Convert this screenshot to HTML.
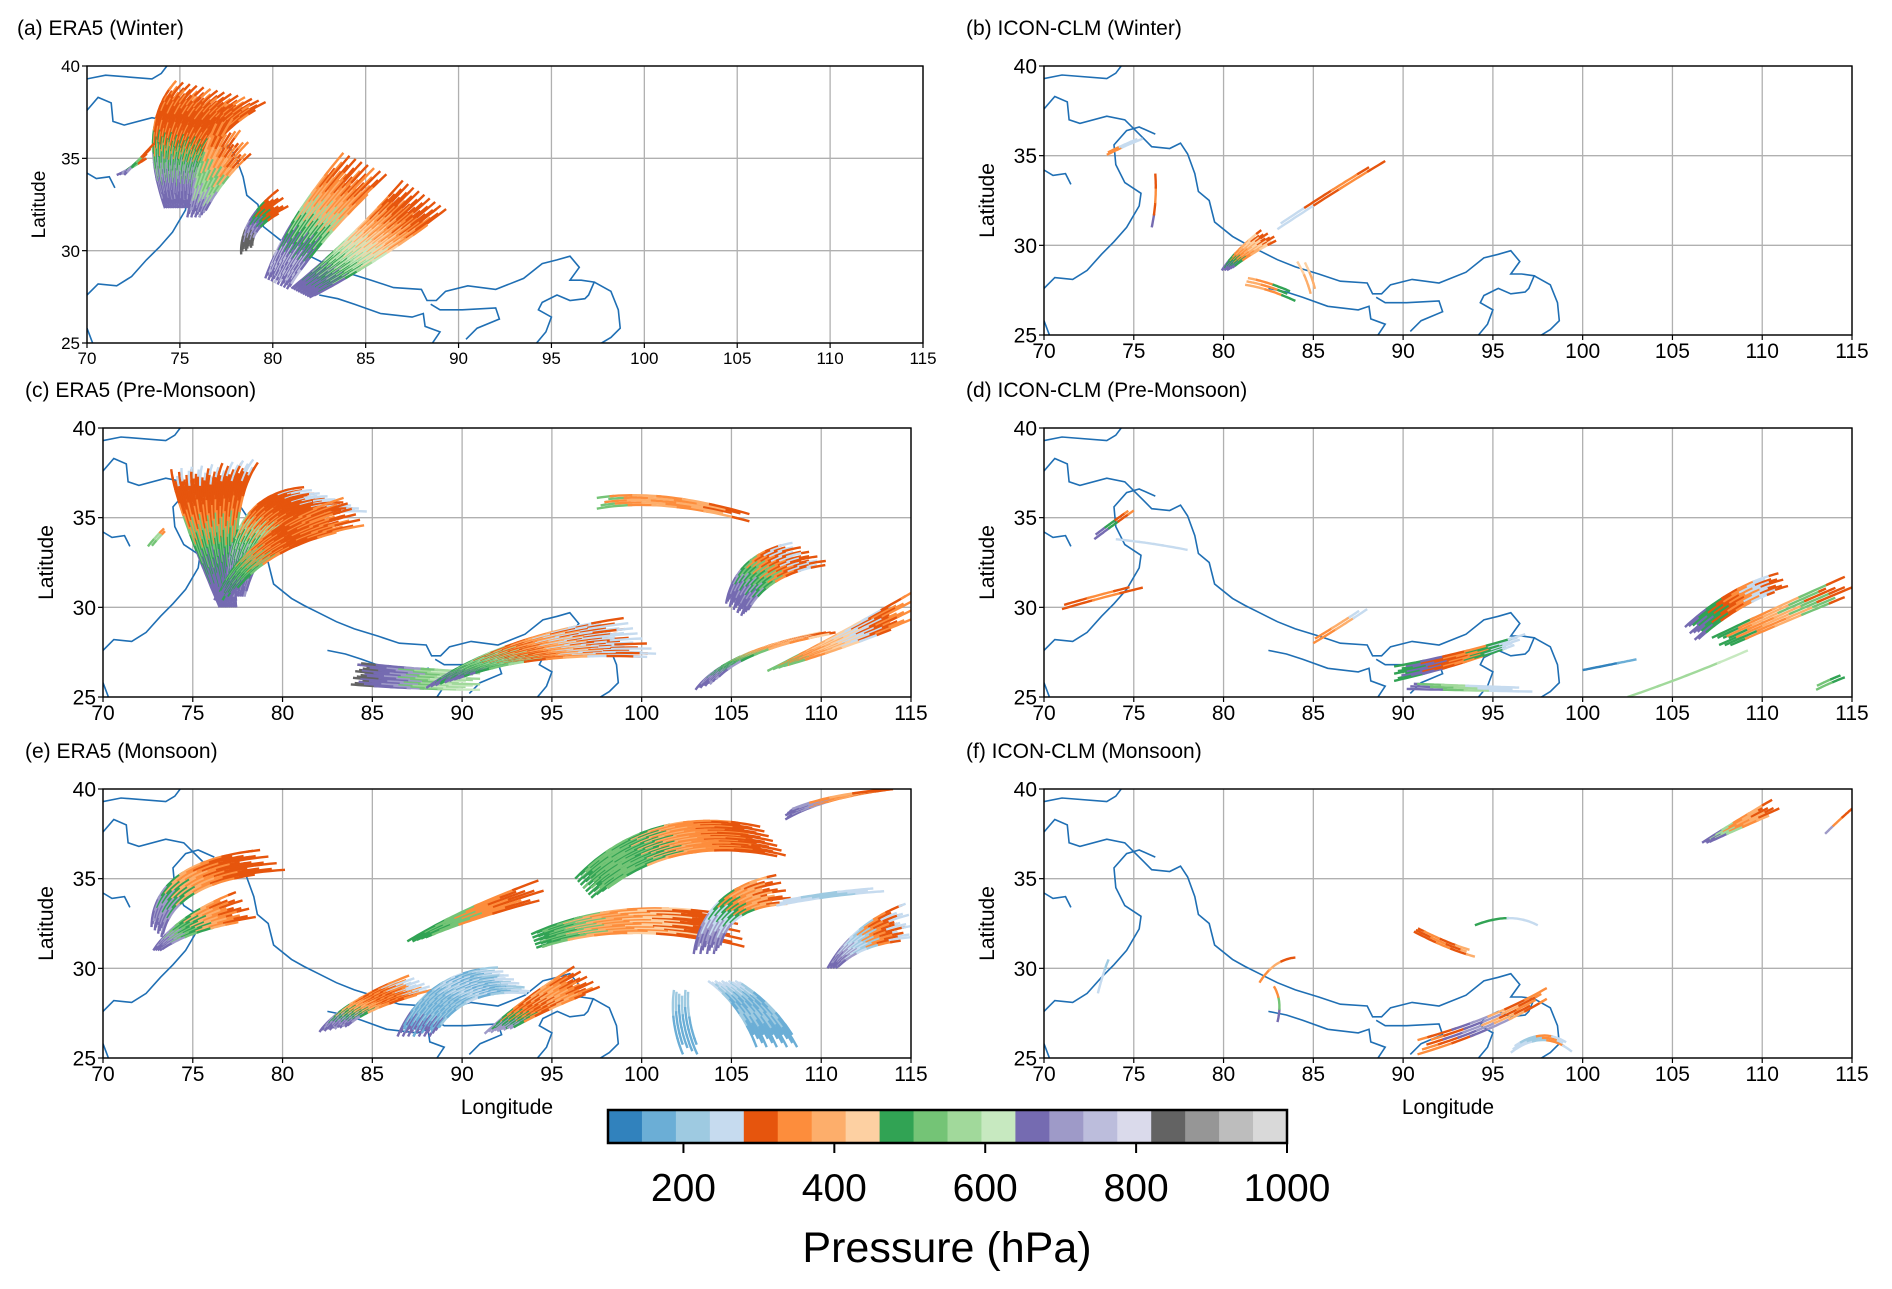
<!DOCTYPE html>
<html><head><meta charset="utf-8"><style>
body{margin:0;background:#fff}
svg{display:block;font-family:"Liberation Sans","DejaVu Sans",sans-serif}
</style></head><body>
<svg id="fig" width="1892" height="1289" viewBox="0 0 1892 1289" xmlns="http://www.w3.org/2000/svg"></svg>
<script>
// ---- data ----
const panelTitles = ["(a) ERA5 (Winter)","(b) ICON-CLM (Winter)","(c) ERA5 (Pre-Monsoon)","(d) ICON-CLM (Pre-Monsoon)","(e) ERA5 (Monsoon)","(f) ICON-CLM (Monsoon)"];
const lonTicks = [70,75,80,85,90,95,100,105,110,115];
const latTicks = [25,30,35,40];
const cbarTicks = [200,400,600,800,1000];
const cbarColors = ["#3182bd","#6baed6","#9ecae1","#c6dbef","#e6550d","#fd8d3c","#fdae6b","#fdd0a2","#31a354","#74c476","#a1d99b","#c7e9c0","#756bb1","#9e9ac8","#bcbddc","#dadaeb","#636363","#969696","#bdbdbd","#d9d9d9"];
// coastline / border polylines [lon,lat,...]
const borders = [
 [70,39.3,71,39.5,73.5,39.3,74,39.6,74.3,40],
 [70,37.6,70.6,38.3,71.3,38,71.4,37,72,36.8,73.5,37.2,74.5,37,75.5,36,76,35.5,77,35.4,77.6,35.7,78,35.1,78.4,34,78.6,33,79.2,32.5,79.5,31.3,80.5,30.5,81.2,30.1,82,29.7,83,29.2,84,28.8,85.3,28.4,86.5,28,88,27.9,88.3,27.3,88.8,27.3,89.3,27.8,90.5,28.1,92,27.9,93.5,28.5,94.5,29.3,95.3,29.5,96,29.7,96.5,29.1,96,28.4,96.6,28.4,97.3,28.3,97,27.6,96.8,27.4,96,27.3,95.3,27.6,94.5,27.2,94.3,26.8,95,26.4,94.7,25.6,94.2,25],
 [97.3,28.3,98.2,27.8,98.6,26.8,98.7,25.8,98.2,25.3,97.7,25],
 [70,27.6,70.6,28.2,71.6,28.1,72.4,28.6,73.2,29.5,73.9,30.2,74.6,31,75.3,32.2,75.4,32.9,74.5,33.5,74,34.5,73.9,35.6,74.6,36.4,75.3,36.6,76.2,36.2],
 [70,34.2,70.5,33.9,71.2,34,71.5,33.4],
 [70,25.8,70.3,25],
 [82.5,27.6,83.5,27.4,84.4,27.1,85.8,26.6,87.5,26.4,88.1,26.6,88.2,25.9,89,25.6,88.6,25],
 [88.5,27.1,89,26.8,90.2,26.8,92,26.9,92.2,26.3,91,25.8,90.4,25.2]
];
// trajectory bundles: panel index
const bundlePanel = [0,0,0,0,0, 2,2,2,2,2,2,2,2,2, 4,4,4,4,4,4,4,4,4,4,4,4,4,4, 1,1,1,1,1,1, 3,3,3,3,3,3,3,3,3,3,3, 5,5,5,5,5,5,5,5,5, 0,2];
// lon0,lat0, ctlLon,ctlLat, lon1,lat1, count, startSpreadLon,startSpreadLat, endSpreadLon,endSpreadLat
const bundleGeom = [
 [75,32.3,74.3,36.5,77.3,38.6,55,1.6,0,5,-1.2],
 [71.8,34.1,72.5,34.6,73.4,35.4,5,0.4,0,0.4,0.8],
 [80.2,28.2,81.5,31,85,34.7,30,1.2,-0.6,2.4,-1.2],
 [81.5,27.7,85,30,88.2,33,34,1,-0.5,2.4,-1.6],
 [78.6,30,78.5,31.5,80.6,32.8,10,0.6,0.4,0.6,-1],
 [77,30,75.5,36,76.3,38,36,1,0,5,0.6],
 [77.4,30.6,78,36,83,36,34,1,0,3.6,-1.4],
 [72.6,33.4,73,33.9,73.5,34.4,2,0.2,0,0.2,0],
 [97.5,35.8,101,36.4,106,35,5,0,0.6,0,0.4],
 [105.2,29.8,106,32.5,109.5,33,20,1,-0.8,2.2,-1.2],
 [84,26.3,87,26,91,25.9,14,0.4,1.2,0,1],
 [89,25.8,93,28,100,28.3,32,2,0.6,2,-2.2],
 [103.5,25.6,105,27.6,110.5,28.6,16,1,0.4,1,0],
 [107.5,26.6,111,28,115,30,14,1,0.3,0,-1.6],
 [73,32,73.3,35.5,79.5,36,14,0.6,-0.6,1.5,-1.2],
 [73,31,74.5,32.6,78,33.5,14,0.4,0,1.2,-1.5],
 [82.8,26.6,84,28,87.8,29.2,22,1.5,0.3,1.5,-0.8],
 [87.4,26.2,89,29.5,93,29.3,28,2,0,2,-1.5],
 [92,26.5,94,28,97,29.5,18,1.5,0.3,1.5,-1.2],
 [96.8,34.4,101,38.5,107.4,37,28,1,-1.2,1.6,-1.8],
 [94,31.5,99,33.5,105.5,32,18,0.3,-0.8,0.5,-1.8],
 [87.2,31.5,90,33,94.5,34.4,8,0.5,0,0.5,-1],
 [103.6,30.8,104,34,108,34.4,16,1.4,0,1,-1.6],
 [104.5,29.3,106.5,28,107.6,25.6,18,1.6,0,2.4,0],
 [102.2,28.8,102,27,102.8,25.2,6,0.8,0,1,0],
 [110.6,30,112,32,115,32.6,14,0.5,0,0.6,-2],
 [108,38.5,110,39.6,114,40,8,0,0.4,0,0],
 [107.5,33.6,110.5,34.2,113.5,34.4,3,0,0.2,0,0.2],
 [80.1,28.6,81,29.6,82.6,30.6,12,0.4,0,1,-0.5],
 [83,31,86,33,89,34.8,2,0,0.2,0,0.2],
 [73.5,35.1,74.5,35.6,75.5,36,2,0,0.1,0,0.1],
 [76,31,76.3,32.4,76.2,34,1,0,0,0,0],
 [81.2,28,82.5,27.8,84,27.1,3,0,0.4,0,0.4],
 [84.3,29.1,84.8,28.2,85,27.3,2,0.4,0,0.3,0],
 [71,30,73,30.6,75.5,31.2,2,0,0.2,0,0.2],
 [72.8,33.9,74,34.8,75,35.5,2,0,0.2,0,0.2],
 [74,33.8,76,33.6,78,33.2,1,0,0,0,0],
 [85,28.1,86.5,29,88,30,2,0,0.2,0,0.2],
 [89.5,26.3,93,27,96.5,28.2,9,0,0.8,0.6,0.6],
 [90.2,25.6,93.5,25.5,97.2,25.4,3,0,0.3,0,0.2],
 [100,26.5,101.5,26.8,103,27.1,1,0,0,0,0],
 [102.5,25,106,26.2,109.2,27.6,1,0,0,0,0],
 [106,28.5,108.5,30.8,111.2,31.5,10,0.6,-0.8,0.6,-0.8],
 [107.5,28,111,29.6,115,31.3,7,0.6,-0.6,0.8,-0.8],
 [113,25.5,113.8,25.9,114.6,26.2,2,0,0.2,0,0.2],
 [106.8,37,108.6,38,110.8,39.1,6,0.3,0,0.5,-0.6],
 [113.5,37.5,114.2,38.2,115,38.9,1,0,0,0,0],
 [90.6,32.2,92.5,31.2,94,30.8,3,0,0.3,0,0.3],
 [94,32.4,96,33.2,97.5,32.4,1,0,0,0,0],
 [82,29.2,82.8,30.5,84,30.6,1,0,0,0,0],
 [90.8,25.6,95,26.8,98,28.6,5,0,0.8,0,0.6],
 [73,28.6,73.3,29.8,73.6,30.5,1,0,0,0,0],
 [83,27,83.3,28.2,82.8,29,1,0,0,0,0],
 [96,25.4,97.8,26.8,99.4,25.5,3,0,0.2,0,0.3],
 [75.8,31.8,76.6,34.5,78.2,36.6,16,0.8,0,1.6,-2.4],
 [76.6,30.4,78.5,34,84,35.3,22,0.8,0,1.2,-1.6]
];
// colour indices along each bundle (start -> end)
const bundleColors = [
 [12,12,13,9,8,5,4,4,4,5,4],
 [12,13,8,9,4,4],
 [12,14,12,8,10,6,5,4],
 [12,12,8,10,11,7,6,5,4,4],
 [16,16,13,12,8,4,4],
 [12,12,8,9,5,4,4,4,3],
 [12,13,8,10,5,4,4,4,3],
 [9,10,5],
 [9,5,6,5,6,4],
 [12,12,13,8,9,5,4,3,4],
 [16,12,12,13,9,10,11,10],
 [12,8,9,10,4,5,6,3,4,3],
 [12,13,8,9,6,5,7,4],
 [9,5,6,7,3,4,5],
 [12,13,8,6,5,4,4],
 [12,13,9,8,6,5,4],
 [12,13,8,6,5,4,5,3],
 [12,1,2,1,2,3,1,2,3],
 [13,8,5,4,6,5,4],
 [8,9,9,8,6,5,5,4,4],
 [8,9,6,5,7,4,4],
 [8,9,5,4],
 [12,13,3,8,5,6,4],
 [3,2,1,2,1,1],
 [2,1,1],
 [12,13,3,2,5,4,3],
 [12,13,5,6,4],
 [3,2,3],
 [12,8,5,6,7,4],
 [3,4,5,4],
 [5,3,3],
 [12,4,5,4],
 [6,5,8],
 [7,6,6],
 [4,5,4],
 [12,8,4,5],
 [3,3,3],
 [5,6,3],
 [8,12,4,5,8,3],
 [12,9,10,3,3],
 [0,0,1],
 [10,10,10,11],
 [12,8,4,5,3,4],
 [8,5,6,9,4],
 [9,8],
 [12,10,5,6,4],
 [13,5,4],
 [4,5,4,6],
 [8,8,3,3],
 [5,6,4],
 [5,4,12,13,6,4,5],
 [3,3,2],
 [12,9,5],
 [3,2,5,3],
 [12,13,10,9,6,5,4,5],
 [12,8,9,5,4,4,5,4]
];
// ---- layout ----
const panels = [
 {x0:87,x1:923,y0:66,y1:343,small:true},
 {x0:1044,x1:1852,y0:66,y1:335},
 {x0:103,x1:911,y0:428,y1:697},
 {x0:1044,x1:1852,y0:428,y1:697},
 {x0:103,x1:911,y0:789,y1:1058},
 {x0:1044,x1:1852,y0:789,y1:1058}
];
const titlePos = [[17,35],[966,35],[25,397],[966,397],[25,758],[966,758]];
const svg = document.getElementById('fig');
const NS = "http://www.w3.org/2000/svg";
function mk(tag, attrs, parent){const e=document.createElementNS(NS,tag);for(const k in attrs)e.setAttribute(k,attrs[k]);(parent||svg).appendChild(e);return e;}
function xs(p,lon){return p.x0+(lon-70)/45*(p.x1-p.x0);}
function ys(p,lat){return p.y1-(lat-25)/15*(p.y1-p.y0);}

panels.forEach((p,pi)=>{
  const g = mk('g',{});
  
  
  const cid='clip'+pi;
  const cp=mk('clipPath',{id:cid},g); mk('rect',{x:p.x0,y:p.y0,width:p.x1-p.x0,height:p.y1-p.y0},cp);
  lonTicks.forEach(v=>{const l=mk('line',{x1:xs(p,v),x2:xs(p,v),y1:p.y0,y2:p.y1,stroke:'#b0b0b0','stroke-width':1.3},g);});
  latTicks.forEach(v=>{const l=mk('line',{x1:p.x0,x2:p.x1,y1:ys(p,v),y2:ys(p,v),stroke:'#b0b0b0','stroke-width':1.3},g);});
  const inner = mk('g',{'clip-path':'url(#'+cid+')'},g);
  borders.forEach(b=>{let d='';for(let i=0;i<b.length;i+=2)d+=(i?'L':'M')+xs(p,b[i]).toFixed(1)+' '+ys(p,b[i+1]).toFixed(1);
    const e=mk('path',{d:d,fill:'none',stroke:'#1f6fb4','stroke-width':1.6},inner);});
  bundleGeom.forEach((bg,bi)=>{
    if(bundlePanel[bi]!==pi)return;
    const [a0,b0,cx,cy,a1,b1,n,sx,sy,ex,ey]=bg; const cols=bundleColors[bi];
    const m=cols.length;
    for(let k=0;k<n;k++){
      const t = n>1? k/(n-1)-0.5 : 0;
      const P0=[a0+sx*t,b0+sy*t], P2=[a1+ex*t,b1+ey*t], P1=[cx+(sx+ex)/2*t,cy+(sy+ey)/2*t];
      const phase = n>1 ? (((k*7)%5)-2)*0.05 : 0;
      const uStart = n>1 ? ((k*5)%4)*0.03 : 0;
      const uEnd = n>1 ? 1-((k*3)%4)*0.05 : 1;
      const N=30;
      let cur=-1, d='';
      const flush=()=>{ if(d){const e=mk('path',{d:d,fill:'none',stroke:cbarColors[cols[cur]],'stroke-width':2.4},inner);
        
        } };
      let prev=null;
      for(let j=0;j<=N;j++){
        const u=uStart+(uEnd-uStart)*j/N;
        const lon=(1-u)*(1-u)*P0[0]+2*u*(1-u)*P1[0]+u*u*P2[0];
        const lat=(1-u)*(1-u)*P0[1]+2*u*(1-u)*P1[1]+u*u*P2[1];
        const pt=xs(p,lon).toFixed(1)+' '+ys(p,lat).toFixed(1);
        let ci=Math.floor((u+phase)*m); ci=Math.max(0,Math.min(m-1,ci));
        if(ci!==cur){ if(prev){d+='L'+pt;} flush(); cur=ci; d='M'+(prev||pt); }
        else d+='L'+pt;
        prev=pt;
      }
      flush();
    }
  });
  const fr=mk('rect',{x:p.x0,y:p.y0,width:p.x1-p.x0,height:p.y1-p.y0,fill:'none',stroke:'#000','stroke-width':1.4},g);
  
  const fs = p.small?17:21;
  lonTicks.forEach(v=>{mk('line',{x1:xs(p,v),x2:xs(p,v),y1:p.y1,y2:p.y1+5,stroke:'#000','stroke-width':1.2},g);
    const t=mk('text',{x:xs(p,v),y:p.y1+(p.small?21:23),'font-size':fs,'text-anchor':'middle'},g);t.textContent=v;});
  latTicks.forEach(v=>{mk('line',{x1:p.x0-5,x2:p.x0,y1:ys(p,v),y2:ys(p,v),stroke:'#000','stroke-width':1.2},g);
    const t=mk('text',{x:p.x0-7,y:ys(p,v)+fs*0.36,'font-size':fs,'text-anchor':'end'},g);t.textContent=v;});
  const yl=mk('text',{x:0,y:0,'font-size':p.small?19:21,'text-anchor':'middle',transform:'translate('+(p.x0-(p.small?42:50))+','+((p.y0+p.y1)/2)+') rotate(-90)'},g);
  yl.textContent='Latitude';
  const tt=mk('text',{x:titlePos[pi][0],y:titlePos[pi][1],'font-size':21},g);tt.textContent=panelTitles[pi];
  if(pi>=4){const xl=mk('text',{x:(p.x0+p.x1)/2,y:1114,'font-size':21,'text-anchor':'middle'},g);xl.textContent='Longitude';}
});
// colorbar
const cb={x0:608,x1:1287,y0:1110,y1:1143,vmin:100,vmax:1000};
const cg=mk('g',{});
const w=(cb.x1-cb.x0)/cbarColors.length;
cbarColors.forEach((c,i)=>{const r=mk('rect',{x:cb.x0+i*w,y:cb.y0,width:w+0.5,height:cb.y1-cb.y0,fill:c},cg);});
mk('rect',{x:cb.x0,y:cb.y0,width:cb.x1-cb.x0,height:cb.y1-cb.y0,fill:'none',stroke:'#000','stroke-width':2.5},cg);
cbarTicks.forEach(v=>{const x=cb.x0+(v-cb.vmin)/(cb.vmax-cb.vmin)*(cb.x1-cb.x0);mk('line',{x1:x,x2:x,y1:cb.y1,y2:cb.y1+10,stroke:'#000','stroke-width':2},cg);
  const t=mk('text',{x:x,y:1201,'font-size':39,'text-anchor':'middle'},cg);t.textContent=v;});
const ct=mk('text',{x:947,y:1262,'font-size':43,'text-anchor':'middle'},cg);ct.textContent='Pressure (hPa)';
</script>
</body></html>
